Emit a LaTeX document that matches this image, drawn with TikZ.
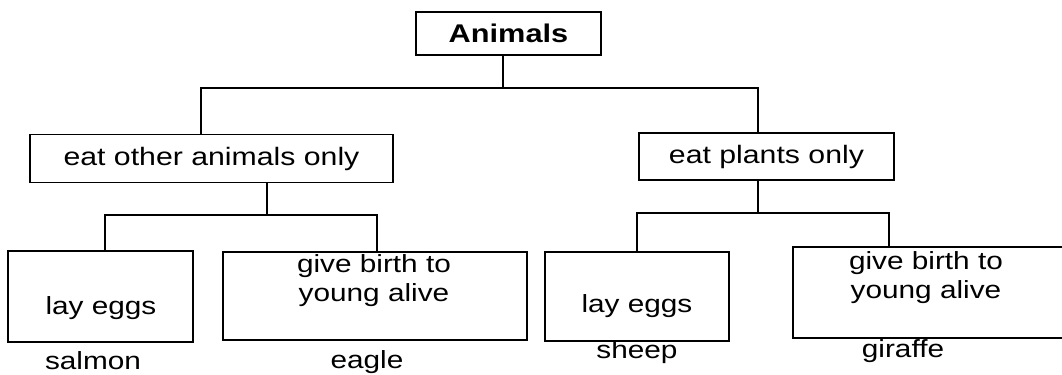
\documentclass[tikz,border=0pt]{standalone}
\usepackage{fontspec}
\setmainfont{Liberation Sans}[FakeStretch=1.2]
\begin{document}
\begin{tikzpicture}[x=0.5pt,y=-0.5pt,
  box/.style={draw=black,line width=0.9pt,inner sep=0pt,rectangle},
  txt/.style={font=\fontsize{12.4}{14}\selectfont,inner sep=0pt,anchor=base},
  conn/.style={draw=black,line width=0.9pt}]
\useasboundingbox (0,0) rectangle (1062,375);
\clip (0,0) rectangle (1062,375);
% boxes
\node[box,minimum width=92.5pt,minimum height=21.5pt,font=\fontsize{12.8}{14}\selectfont\bfseries] (animals) at (508.5,33.5) {Animals};
\node[box,minimum width=181.5pt,minimum height=24pt,font=\fontsize{12.6}{14}\selectfont] (eo) at (211.5,158.5) {eat other animals only};
\node[box,minimum width=127.5pt,minimum height=23.5pt,font=\fontsize{12.6}{14}\selectfont] (ep) at (766.5,156.5) {eat plants only};
\node[box,minimum width=92.5pt,minimum height=45.5pt] (le1) at (100.5,296.5) {};
\node[box,minimum width=152pt,minimum height=44pt] (gb1) at (375,296) {};
\node[box,minimum width=92pt,minimum height=44.5pt] (le2) at (637,296.5) {};
\node[box,minimum width=141pt,minimum height=45.5pt] (gb2) at (934,292.5) {};
% texts in bottom boxes
\node[txt] (t1) at (101,314) {lay eggs};
\node[txt] (t2a) at (374,272) {give birth to};
\node[txt] (t2b) at (374,301) {young alive};
\node[txt] (t3) at (637,312) {lay eggs};
\node[txt] (t4a) at (926,269) {give birth to};
\node[txt] (t4b) at (926,298) {young alive};
% labels
\node[txt] (salmon) at (93,369) {salmon};
\node[txt] (eagle) at (367,368) {eagle};
\node[txt] (sheep) at (637,358) {sheep};
\node[txt] (giraffe) at (903,357) {giraffe};
% junctions
\coordinate (j0) at (503,88);
\coordinate (jL) at (201,88);
\coordinate (jR) at (758,88);
\coordinate (k0) at (267,215);
\coordinate (kL) at (105,215);
\coordinate (kR) at (377,215);
\coordinate (m0) at (758,213);
\coordinate (mL) at (637,213);
\coordinate (mR) at (889,213);
% connectors
\draw[conn] (animals.south -| j0) -- (j0);
\draw[conn] (eo.north -| jL) -- (jL) -- (jR) -- (ep.north -| jR);
\draw[conn] (eo.south -| k0) -- (k0);
\draw[conn] (le1.north -| kL) -- (kL) -- (kR) -- (gb1.north -| kR);
\draw[conn] (ep.south -| m0) -- (m0);
\draw[conn] (le2.north -| mL) -- (mL) -- (mR) -- (gb2.north -| mR);
\end{tikzpicture}
\end{document}
